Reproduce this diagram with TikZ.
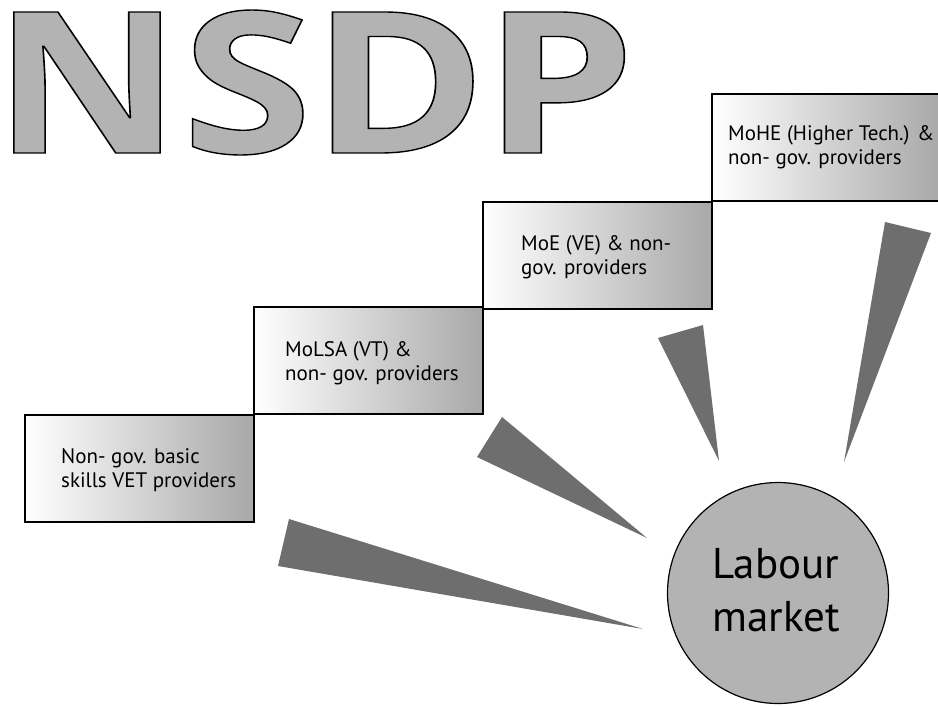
\documentclass[tikz,border=0pt]{standalone}
\usepackage{fontspec}
\setmainfont{PT Sans}
\newfontfamily\bigfont{Open Sans}[BoldFeatures={FakeBold=0.7}]
\definecolor{nsdpgray}{RGB}{179,179,179}
\definecolor{boxgray}{RGB}{168,168,168}
\definecolor{wedgegray}{RGB}{110,110,110}
\newcommand{\outletter}[2]{\scalebox{#1}[1]{\special{pdf:bcolor [0.702] [0]}#2\special{pdf:ecolor}}}
\begin{document}
\begin{tikzpicture}[x=1pt,y=-1pt,
  stepbox/.style={rectangle,draw=black,line width=1.5pt,left color=white,right color=boxgray,
    minimum width=229pt,minimum height=107pt,inner sep=0pt,outer sep=0pt,anchor=north west},
  steptext/.style={anchor=base west,align=left,inner sep=0pt,font=\fontsize{21}{24}\selectfont},
  nsdp/.style={inner sep=0pt,font=\bigfont\bfseries\fontsize{197.5}{200}\selectfont},
  wedge/.style={fill=wedgegray,draw=none}]
\useasboundingbox (0,0) rectangle (938,705);
% title letters
\node[nsdp] (ln) at (87,82.5) {\outletter{1.17}{N}};
\node[nsdp] (ls) at (247,82.5) {\outletter{1.2}{S}};
\node[nsdp] (ld) at (399,82.5) {\outletter{1.2}{D}};
\node[nsdp] (lp) at (559,82.5) {\outletter{1.23}{P}};
% step boxes
\node[stepbox] (b1) at (25,415) {};
\node[stepbox] (b2) at (254,307) {};
\node[stepbox] (b3) at (483,202) {};
\node[stepbox] (b4) at (712,94) {};
\node[steptext] (t1) at (61,487) {Non- gov. basic\\skills VET providers};
\node[steptext] (t2) at (285,380) {MoLSA (VT) \&\\non- gov. providers};
\node[steptext] (t3) at (521,274) {MoE (VE) \& non-\\gov. providers};
\node[steptext] (t4) at (728,164) {MoHE (Higher Tech.) \&\\non- gov. providers};
% wedges
\fill[wedge] (289,519) -- (278,566) -- (643,629) -- cycle;
\fill[wedge] (502,417) -- (477,457) -- (647,538) -- cycle;
\fill[wedge] (658,338) -- (703,325) -- (719,461) -- cycle;
\fill[wedge] (885,222) -- (931,233) -- (844,462) -- cycle;
% labour market
\node[circle,draw=black,line width=1.2pt,fill=nsdpgray,minimum size=221pt,inner sep=0pt] (lm) at (778,593) {};
\node[anchor=base,align=center,inner sep=0pt,font=\fontsize{43}{53}\selectfont] (lmt) at (776,631) {Labour\\market};
\end{tikzpicture}
\end{document}
